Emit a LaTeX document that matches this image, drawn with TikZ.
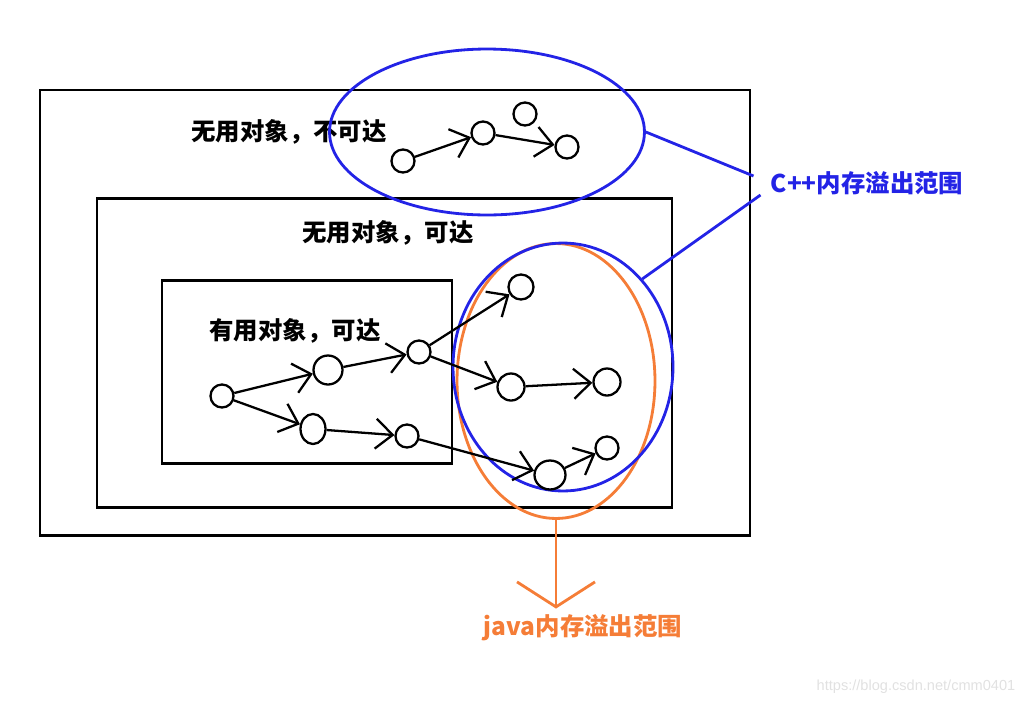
\documentclass[tikz,border=0pt]{standalone}
\usepackage{fontspec}
\newfontfamily\cjk{Noto Sans CJK SC}
\newfontfamily\wmfont{Liberation Sans}
\usetikzlibrary{shapes.geometric, arrows.meta, calc}
\definecolor{cppblue}{RGB}{35, 35, 230}
\definecolor{javaorange}{RGB}{245, 125, 55}
\definecolor{markgray}{RGB}{225, 225, 225}

\begin{document}
\begin{tikzpicture}[x=0.02cm, y=-0.02cm,
  region/.style={draw, line width=1.7pt},
  obj/.style={circle, draw, line width=1.3pt, minimum size=0.46cm, inner sep=0pt},
  refedge/.style={line width=1.3pt, -{Straight Barb[length=3.4mm, width=6mm]}},
  oomzone/.style={ellipse, draw, line width=1.6pt, inner sep=0pt},
  areatext/.style={font=\cjk\bfseries\fontsize{13.9}{16}\selectfont},
]
  \useasboundingbox (0,0) rectangle (1032,704);

  % nested regions
  \draw[region] (40,90) rectangle (750,535);
  \draw[region] (97,198) rectangle (672,507);
  \draw[region] (162,280) rectangle (452,463);

  \node[areatext] (unreach) at (289,132) {无用对象，不可达};
  \node[areatext] (uselessreach) at (388,233) {无用对象，可达};
  \node[areatext] (usefulreach) at (295,331) {有用对象，可达};

  % overflow ranges
  \node[oomzone, javaorange, minimum width=3.96cm, minimum height=5.5cm] (javarange) at (556,381) {};
  \node[oomzone, cppblue, minimum width=6.3cm, minimum height=3.32cm] (toprange) at (487,132) {};
  \node[oomzone, cppblue, minimum width=4.4cm, minimum height=4.96cm] (leakrange) at (563,367) {};

  % unreachable objects
  \node[obj] (a) at (403,161) {};
  \node[obj] (b) at (483,133) {};
  \node[obj] (c) at (525,114) {};
  \node[obj] (d) at (567,147) {};
  \draw[refedge] (a) -- (b);
  \draw[refedge] (b) -- (d);

  % reachable objects
  \node[obj] (n1) at (222,396) {};
  \node[obj, minimum size=0.58cm] (n2) at (328,370) {};
  \node[obj, ellipse, minimum width=0.5cm, minimum height=0.6cm] (n3) at (313,429) {};
  \node[obj] (n4) at (419,352) {};
  \node[obj] (n5) at (407,436) {};
  \node[obj, minimum size=0.5cm] (n6) at (521,287) {};
  \node[obj, minimum size=0.54cm] (n7) at (511,387) {};
  \node[obj, minimum size=0.54cm] (n8) at (607,382) {};
  \node[obj, minimum width=0.62cm, minimum height=0.58cm, ellipse] (n9) at (550,475) {};
  \node[obj] (n10) at (607,448) {};
  \draw[refedge] (n1) -- (n2);
  \draw[refedge] (n1) -- (n3);
  \draw[refedge] (n2) -- (n4);
  \draw[refedge] (n3) -- (n5);
  \draw[refedge] (n4) -- (n6);
  \draw[refedge] (n4) -- (n7);
  \draw[refedge] (n7) -- (n8);
  \draw[refedge] (n5) -- (n9);
  \draw[refedge] (n9) -- (n10);

  % labels of the ranges
  \node[areatext, text=cppblue] (cpplabel) at (867,183) {C++内存溢出范围};
  \draw[cppblue, line width=1.6pt] (toprange.east) -- ($(cpplabel.west)+(-11,-7)$);
  \draw[cppblue, line width=1.6pt] (leakrange.48) -- ($(cpplabel.west)+(-4,12)$);

  \node[areatext, text=javaorange] (javalabel) at (583,628) {java内存溢出范围};
  \draw[javaorange, line width=1.6pt, -{Straight Barb[length=0.5cm, width=1.56cm]}]
    (javarange.south) -- (javarange.south |- javalabel.north);

  \node[font=\wmfont\fontsize{8.3}{10}\selectfont, text=markgray] (mark) at (916,687) {https://blog.csdn.net/cmm0401};
\end{tikzpicture}
\end{document}
